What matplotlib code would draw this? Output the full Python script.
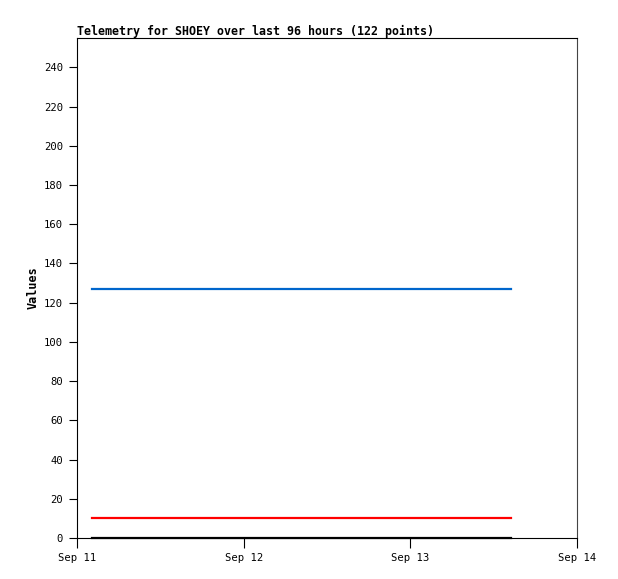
import pandas as pd
import matplotlib
matplotlib.use('Agg')
import matplotlib.pyplot as plt

# Telemetry data (122 points, constant values)
n_points = 122
t_start = '2023-09-11 02:10'
t_end = '2023-09-13 14:30'
blue_vals = [127.0] * n_points
red_vals = [10.0] * n_points
black_vals = [0.0] * n_points
times = pd.date_range(t_start, t_end, periods=n_points)

x_ticks = pd.to_datetime(['2023-09-11', '2023-09-12', '2023-09-13', '2023-09-14'])
x_labels = ['Sep 11', 'Sep 12', 'Sep 13', 'Sep 14']
y_ticks = list(range(0, 241, 20))

plt.rcParams['font.family'] = ['DejaVu Sans Mono']

fig = plt.figure(figsize=(6.18, 5.79), dpi=100)
ax = fig.add_axes([77 / 618, 41 / 579, 500 / 618, 500 / 579])

ax.plot(times, blue_vals, color='#0066cc', lw=1.6)
ax.plot(times, red_vals, color='#ff0000', lw=1.6)
ax.plot(times, black_vals, color='black', lw=1.6, clip_on=False)

ax.set_xlim(x_ticks[0], x_ticks[-1])
ax.set_ylim(0, 255)
ax.set_xticks(x_ticks)
ax.set_xticklabels(x_labels)
ax.set_yticks(y_ticks)
ax.tick_params(axis='x', length=7, labelsize=7.6, pad=4)
ax.tick_params(axis='y', length=6, labelsize=7.6, pad=4)

ax.spines['right'].set_color('#444444')

ax.set_ylabel('Values', fontsize=8.5, fontweight='bold', labelpad=3)
ax.set_title('Telemetry for SHOEY over last 96 hours (122 points)',
             loc='left', fontsize=8.4, fontweight='bold', pad=2)

fig.savefig('out.png', dpi=100)
